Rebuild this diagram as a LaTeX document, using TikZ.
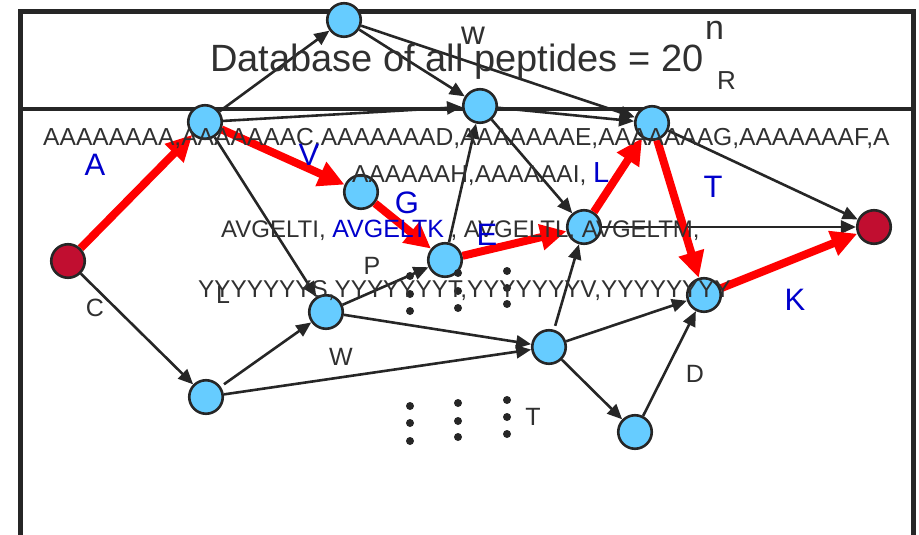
\documentclass[tikz,border=0pt]{standalone}
\usepackage{fontspec}
\setmainfont{Liberation Sans}
\usetikzlibrary{arrows.meta}
\definecolor{ink}{HTML}{262626}
\definecolor{txt}{HTML}{303030}
\definecolor{skyfill}{HTML}{66CCFF}
\definecolor{termred}{HTML}{C10E30}
\definecolor{lblue}{HTML}{0000CC}
\pgfdeclarelayer{back}
\pgfdeclarelayer{front}
\pgfsetlayers{back,main,front}

\begin{document}
\begin{tikzpicture}[x=1pt,y=-1pt,
  vtx/.style={circle, draw=ink, line width=2.6pt, fill=skyfill, minimum size=33.5pt, inner sep=0pt},
  endvtx/.style={vtx, fill=termred},
  edge/.style={draw=ink, line width=2.6pt, -{Triangle[length=15pt,width=13pt]}},
  hit/.style={draw=red, line width=8pt, -{Triangle[length=26pt,width=25pt]}},
  frameline/.style={draw=ink, line width=5pt},
  rowtxt/.style={inner sep=0pt, anchor=base west, text=txt},
  lbl/.style={inner sep=0pt, text=txt, font=\fontsize{25}{30}\selectfont},
  blbl/.style={inner sep=0pt, text=lblue, font=\fontsize{31}{36}\selectfont},
  ell/.style={circle, fill=ink, inner sep=0pt, minimum size=8pt}]

\useasboundingbox (0,0) rectangle (919,535);
\clip (0,0) rectangle (919,535);

% outer box and the divider under the header
\begin{pgfonlayer}{back}
  \draw[frameline] (20.5,545) -- (20.5,12) -- (913,12) -- (913,545);
  \draw[draw=ink, line width=4.5pt] (20.5,109) -- (913,109);
\end{pgfonlayer}

% vertices
\node[endvtx] (src) at (68,261) {};
\node[vtx] (n4) at (205,122) {};
\node[vtx] (n1) at (344,20) {};
\node[vtx] (n2) at (480,106) {};
\node[vtx] (n3) at (652,123) {};
\node[vtx] (vn) at (361,192) {};
\node[vtx] (en) at (445,260) {};
\node[vtx] (ln) at (584,227) {};
\node[endvtx] (snk) at (874,227) {};
\node[vtx] (tn) at (704,295) {};
\node[vtx] (sn) at (326,312) {};
\node[vtx] (cd) at (206,397) {};
\node[vtx] (mr) at (549,347) {};
\node[vtx] (bt) at (635,432) {};

% ordinary edges
\begin{pgfonlayer}{back}
  \draw[edge] (n4) -- (n1);
  \draw[edge] (n1) -- (n2);
  \draw[edge] (n1) -- (n3);
  \draw[edge] (n4) -- (n2);
  \draw[edge] (n2) -- (n3);
  \draw[edge] (n2) -- (ln);
  \draw[edge] (en) -- (n2);
  \draw[edge] (n3) -- (snk);
  \draw[edge] (ln) -- (snk);
  \draw[edge] (n4) -- (sn);
  \draw[edge] (src) -- (cd);
  \draw[edge, shorten <=4pt] (cd) -- (sn);
  \draw[edge] (cd) -- (mr);
  \draw[edge] (sn) -- (mr);
  \draw[edge] (sn) -- (en);
  \draw[edge, shorten <=4pt] (mr) -- (ln);
  \draw[edge] (mr) -- (tn);
  \draw[edge] (mr) -- (bt);
  \draw[edge] (bt) -- (tn);
\end{pgfonlayer}

% highlighted path
\draw[hit] (src) -- (n4);
\draw[hit] (n4) -- (vn);
\draw[hit] (vn) -- (en);
\draw[hit] (en) -- (ln);
\draw[hit] (ln) -- (n3);
\draw[hit] (n3) -- (tn);
\draw[hit] (tn) -- (snk);

% vertical ellipses
\foreach \cx/\ya/\yb/\yc [count=\i] in {410/276/294/311, 458/273/291/308, 507/271/288/304,
                                        410/406/423/441, 458/403/421/437, 507/400/417/434}
{
  \node[ell] (dA\i) at (\cx,\ya) {};
  \node[ell] (dB\i) at (\cx,\yb) {};
  \node[ell] (dC\i) at (\cx,\yc) {};
}

\begin{pgfonlayer}{front}
  % header
  \node[rowtxt, font=\fontsize{38}{40}\selectfont] (title) at (210,72) {Database of all peptides = 20};
  \node[rowtxt, font=\fontsize{34}{36}\selectfont] (sup) at (705,40) {n};
  \node[rowtxt, font=\fontsize{26}{30}\selectfont] (sub) at (717,90) {R};
  \node[rowtxt, font=\fontsize{33}{36}\selectfont] (wlab) at (461,45) {w};

  % peptide lists
  \node[rowtxt, font=\fontsize{24.6}{28}\selectfont] (row1) at (43,145)
    {AAAAAAAA,AAAAAAAC,AAAAAAAD,AAAAAAAE,AAAAAAAG,AAAAAAAF,A};
  \node[rowtxt, font=\fontsize{24.5}{28}\selectfont] (row2) at (352,182)
    {AAAAAAH,AAAAAAI, {\color{lblue}\fontsize{29}{30}\selectfont L}};
  \node[rowtxt, font=\fontsize{24}{28}\selectfont] (row3) at (221,237.5)
    {AVGELTI, {\color{lblue}\fontsize{25}{28}\selectfont AVGELTK} , AVGELTL, AVGELTM,};
  \node[rowtxt, font=\fontsize{24.3}{28}\selectfont] (row4) at (198,297)
    {YYYYYYYS,YYYYYYYT,YYYYYYYV,YYYYYYYY};

  % edge letters
  \node[blbl] (bA) at (95,165) {A};
  \node[blbl] (bV) at (309,155) {V};
  \node[blbl] (bG) at (407,203) {G};
  \node[blbl] (bE) at (487,235) {E};
  \node[blbl] (bT) at (713,187) {T};
  \node[blbl] (bK) at (795,300) {K};
  \node[lbl] (kC) at (95,308) {C};
  \node[lbl] (kL) at (223,295) {L};
  \node[lbl] (kP) at (372,266) {P};
  \node[lbl] (kW) at (341,357) {W};
  \node[lbl] (kD) at (695,374) {D};
  \node[lbl] (kT) at (533,417) {T};
\end{pgfonlayer}
\end{tikzpicture}
\end{document}
